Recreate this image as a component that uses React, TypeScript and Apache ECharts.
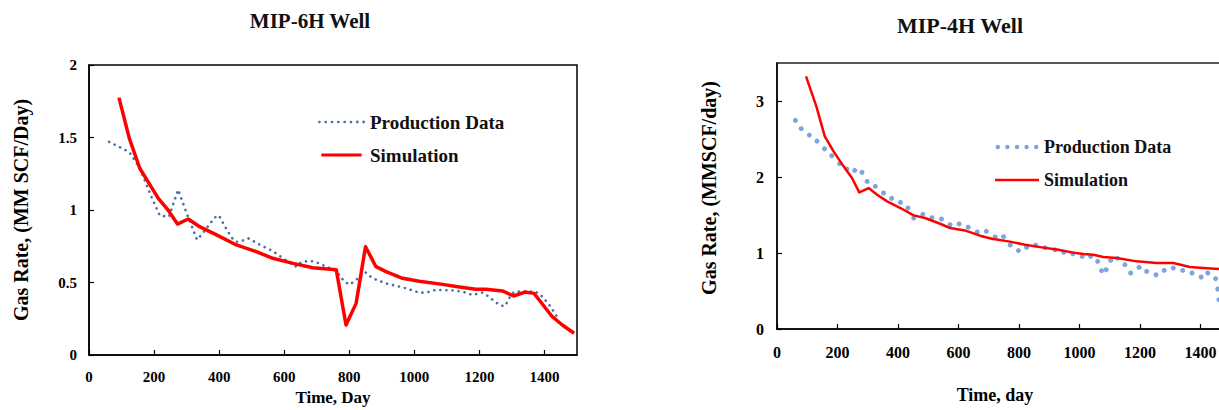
import React, { useEffect, useRef } from "react";
import * as echarts from "echarts";

// ---- MIP-6H Well (left panel) ----
const leftProduction: [number, number][] = [
  [62, 1.47], [124, 1.4], [156, 1.29], [192, 1.09], [218, 0.96], [246, 0.955],
  [274, 1.14], [298, 0.99], [332, 0.795], [346, 0.83], [373, 0.91], [392, 0.96],
  [400, 0.96], [417, 0.89], [438, 0.81], [453, 0.78], [473, 0.79], [489, 0.805],
  [525, 0.76], [565, 0.717], [586, 0.683], [617, 0.637], [637, 0.609], [652, 0.64],
  [678, 0.65], [698, 0.64], [729, 0.61], [760, 0.58], [785, 0.506], [801, 0.485],
  [821, 0.517], [847, 0.575], [872, 0.529], [913, 0.494], [975, 0.46], [1015, 0.43],
  [1036, 0.43], [1067, 0.45], [1117, 0.445], [1148, 0.437], [1179, 0.414], [1209, 0.43],
  [1230, 0.402], [1245, 0.372], [1266, 0.34], [1279, 0.338], [1291, 0.39], [1307, 0.437],
  [1373, 0.437], [1394, 0.402], [1419, 0.333], [1445, 0.24],
];
const leftSimulation: [number, number][] = [
  [92, 1.775], [124, 1.494], [156, 1.288], [213, 1.08], [243, 1.0], [272, 0.903],
  [305, 0.938], [340, 0.885], [392, 0.828], [453, 0.759], [514, 0.713], [565, 0.667],
  [627, 0.632], [688, 0.602], [760, 0.588], [790, 0.207], [821, 0.356], [850, 0.747],
  [882, 0.609], [913, 0.575], [964, 0.529], [1015, 0.508], [1087, 0.487], [1138, 0.469],
  [1189, 0.453], [1220, 0.453], [1271, 0.442], [1305, 0.407], [1340, 0.434], [1368, 0.425],
  [1394, 0.35], [1424, 0.264], [1455, 0.207], [1491, 0.15],
];

// ---- MIP-4H Well (right panel) ----
const rightProduction: [number, number][] = [
  [61, 2.745], [80, 2.636], [107, 2.552], [132, 2.473], [157, 2.372], [181, 2.28],
  [207, 2.175], [231, 2.105], [257, 2.087], [281, 2.061], [298, 1.942], [325, 1.877],
  [352, 1.789], [379, 1.719], [408, 1.666], [433, 1.592], [452, 1.461], [482, 1.509],
  [512, 1.465], [544, 1.447], [572, 1.372], [602, 1.383], [632, 1.34], [662, 1.276],
  [692, 1.285], [721, 1.21], [749, 1.215], [771, 1.105], [798, 1.032], [825, 1.076],
  [855, 1.104], [886, 1.07], [919, 1.043], [948, 1.01], [978, 0.99], [1009, 0.955],
  [1037, 0.955], [1060, 0.89], [1073, 0.767], [1088, 0.78], [1103, 0.903], [1126, 0.93],
  [1150, 0.846], [1169, 0.737], [1197, 0.811], [1222, 0.758], [1253, 0.714], [1280, 0.771],
  [1310, 0.803], [1341, 0.771], [1372, 0.737], [1402, 0.684], [1424, 0.737], [1450, 0.662],
  [1457, 0.526], [1461, 0.386],
];
const rightSimulation: [number, number][] = [
  [96, 3.324], [130, 2.929], [158, 2.534], [187, 2.337], [220, 2.14], [248, 1.987],
  [272, 1.798], [303, 1.855], [331, 1.767], [364, 1.679], [408, 1.592], [452, 1.495],
  [489, 1.461], [533, 1.395], [572, 1.329], [621, 1.297], [671, 1.228], [710, 1.188],
  [765, 1.153], [820, 1.109], [875, 1.074], [930, 1.043], [979, 1.005], [1013, 0.987],
  [1046, 0.978], [1079, 0.947], [1123, 0.934], [1189, 0.89], [1255, 0.868], [1310, 0.868],
  [1365, 0.816], [1409, 0.803], [1465, 0.789],
];

const titles = ["MIP-6H Well", "MIP-4H Well"];
const xNames = ["Time, Day", "Time, day"];
const yNames = ["Gas Rate, (MM SCF/Day)", "Gas Rate, (MMSCF/day)"];
const legendNames = ["Production Data", "Simulation"];
const RIGHT_PREFIX = "MIP-4H ";

const FONT = '"Liberation Serif", "Times New Roman", serif';
const RED = "#ff0000";
const BLUE_L = "#4a6ea8";
const BLUE_R = "#5b8fd6";

function dotsPath(n: number, r: number, step: number): string {
  let d = "";
  for (let i = 0; i < n; i++) {
    const cx = r + i * step;
    d += `M${cx - r},${r}a${r},${r} 0 1,0 ${2 * r},0a${r},${r} 0 1,0 ${-2 * r},0Z`;
  }
  return "path://" + d;
}

const axisLabelStyle = (size: number, margin: number) => ({
  fontFamily: FONT,
  fontWeight: "bold" as const,
  fontSize: size,
  color: "#000",
  margin,
  formatter: (v: number) => String(v),
});

export default function App() {
  const ref = useRef<HTMLDivElement>(null);
  useEffect(() => {
    document.body.style.margin = "0";
    const chart = echarts.init(ref.current!, null, { renderer: "svg" });
    const axisLine = { show: true, lineStyle: { color: "#000", width: 1.5 } };
    const axisTick = { show: true, inside: true, length: 5, lineStyle: { color: "#000", width: 1.2 } };
    chart.setOption({
      animation: false,
      textStyle: { fontFamily: FONT },
      title: [
        {
          text: titles[0], left: 310, top: 10, padding: 0, textAlign: "center",
          textStyle: { fontFamily: FONT, fontWeight: "bold", fontSize: 21, color: "#111" },
        },
        {
          text: titles[1], left: 960, top: 14, padding: 0, textAlign: "center",
          textStyle: { fontFamily: FONT, fontWeight: "bold", fontSize: 22, color: "#111" },
        },
      ],
      legend: [
        {
          orient: "vertical", left: 318, top: 112, padding: 0,
          itemWidth: 47, itemHeight: 3, itemGap: 13,
          textStyle: { fontFamily: FONT, fontWeight: "bold", fontSize: 19, color: "#111", lineHeight: 20 },
          data: [
            { name: legendNames[0], icon: dotsPath(8, 1.4, 6.4) },
            { name: legendNames[1], icon: "path://M0,0H47V3.5H0Z" },
          ],
        },
        {
          orient: "vertical", left: 995, top: 137, padding: 0,
          itemWidth: 44, itemHeight: 4.4, itemGap: 13,
          formatter: (n: string) => n.replace(RIGHT_PREFIX, ""),
          textStyle: { fontFamily: FONT, fontWeight: "bold", fontSize: 18, color: "#111", lineHeight: 20 },
          data: [
            { name: RIGHT_PREFIX + legendNames[0], icon: dotsPath(5, 2.2, 9.6) },
            { name: RIGHT_PREFIX + legendNames[1], icon: "path://M0,0H44V2.5H0Z" },
          ],
        },
      ],
      grid: [
        {
          left: 89, top: 65, width: 488, height: 290, show: true, borderColor: "#000", borderWidth: 1.5,
          containLabel: false, outerBoundsMode: "none",
        },
        {
          left: 777, top: 63, width: 484, height: 266, show: true, borderColor: "#222", borderWidth: 1.5,
          containLabel: false, outerBoundsMode: "none",
        },
      ],
      xAxis: [
        {
          type: "value", gridIndex: 0, min: 0, max: 1500, interval: 200,
          axisLine, axisTick, splitLine: { show: false },
          axisLabel: { ...axisLabelStyle(15, 14), showMaxLabel: false },
          name: xNames[0], nameLocation: "middle", nameGap: 34,
          nameTextStyle: { fontFamily: FONT, fontWeight: "bold", fontSize: 17, color: "#000" },
        },
        {
          type: "value", gridIndex: 1, min: 0, max: 1600, interval: 200,
          axisLine, axisTick, splitLine: { show: false },
          axisLabel: { ...axisLabelStyle(16, 15), showMaxLabel: false },
          name: xNames[1], nameLocation: "middle", nameGap: 57,
          nameTextStyle: { fontFamily: FONT, fontWeight: "bold", fontSize: 18, color: "#000", padding: [0, 48, 0, 0] },
        },
      ],
      yAxis: [
        {
          type: "value", gridIndex: 0, min: 0, max: 2, interval: 0.5,
          axisLine, axisTick, splitLine: { show: false },
          axisLabel: axisLabelStyle(15, 12),
          name: yNames[0], nameLocation: "middle", nameGap: 58,
          nameTextStyle: { fontFamily: FONT, fontWeight: "bold", fontSize: 20, color: "#000" },
        },
        {
          type: "value", gridIndex: 1, min: 0, max: 3.5, interval: 1,
          axisLine, axisTick, splitLine: { show: false },
          axisLabel: { ...axisLabelStyle(16, 13), showMaxLabel: false },
          name: yNames[1], nameLocation: "middle", nameGap: 58,
          nameTextStyle: { fontFamily: FONT, fontWeight: "bold", fontSize: 20, color: "#000", padding: [0, 0, 0, 16] },
        },
      ],
      series: [
        {
          name: legendNames[0], type: "line", xAxisIndex: 0, yAxisIndex: 0,
          data: leftProduction, symbol: "none", z: 2,
          itemStyle: { color: BLUE_L },
          lineStyle: { color: BLUE_L, width: 2.6, type: [0.1, 6], cap: "round", join: "round" },
        },
        {
          name: legendNames[1], type: "line", xAxisIndex: 0, yAxisIndex: 0,
          data: leftSimulation, symbol: "none", z: 3,
          itemStyle: { color: RED },
          lineStyle: { color: RED, width: 3.5, join: "round" },
        },
        {
          name: RIGHT_PREFIX + legendNames[0], type: "scatter", xAxisIndex: 1, yAxisIndex: 1,
          data: rightProduction, symbol: "circle", symbolSize: 5, z: 2,
          itemStyle: { color: BLUE_R },
        },
        {
          name: RIGHT_PREFIX + legendNames[1], type: "line", xAxisIndex: 1, yAxisIndex: 1,
          data: rightSimulation, symbol: "none", z: 3,
          itemStyle: { color: RED },
          lineStyle: { color: RED, width: 2.5, join: "round" },
        },
      ],
    });
    return () => chart.dispose();
  }, []);
  return <div ref={ref} style={{ width: 1219, height: 410 }} />;
}
